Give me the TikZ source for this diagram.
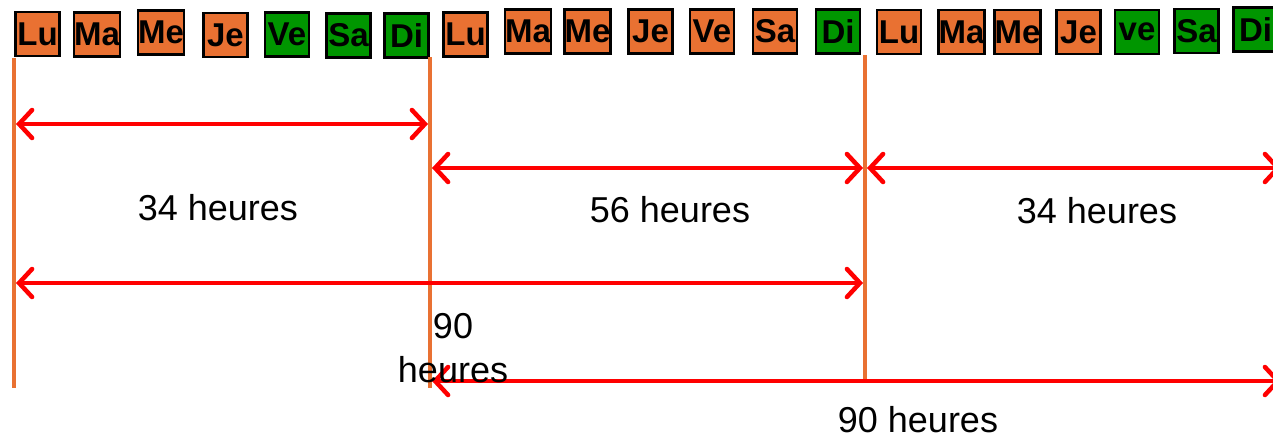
\documentclass[tikz,border=0pt]{standalone}
\usepackage{fontspec}
\setmainfont{Liberation Sans}
\usetikzlibrary{arrows.meta,positioning}

\definecolor{dayorange}{RGB}{233,113,50}
\definecolor{daygreen}{RGB}{0,150,0}
\definecolor{arrowred}{RGB}{255,0,0}

\begin{document}
\begin{tikzpicture}[x=1pt,y=-1pt,>={Straight Barb[length=13pt,width=28pt,line cap=round]}]
\tikzstyle{wd} = [draw=black,line width=2.5pt,fill=dayorange,minimum width=44pt,minimum height=44pt,inner sep=0pt,font=\fontsize{33pt}{33pt}\selectfont\bfseries]
\tikzstyle{we} = [wd,fill=daygreen]
\tikzstyle{sep} = [draw=dayorange,line width=4pt]
\tikzstyle{span} = [draw=arrowred,line width=4.5pt,line cap=round,<->]
\tikzstyle{lbl} = [font=\fontsize{36pt}{44pt}\selectfont,align=center,inner sep=0pt]
    \useasboundingbox (0,0) rectangle (1273,439);

    % first week
    \node[wd] (lu1) at (37.5,34) {Lu};
    \node[wd] (ma1) at (97,34.5) {Ma};
    \node[wd] (me1) at (161,32.5) {Me};
    \node[wd] (je1) at (225.5,35) {Je};
    \node[we] (ve1) at (287,34.5) {Ve};
    \node[we] (sa1) at (348.5,35.5) {Sa};
    \node[we] (di1) at (406.5,35.5) {Di};
    % second week
    \node[wd] (lu2) at (465.5,34.5) {Lu};
    \node[wd] (ma2) at (528,31.5) {Ma};
    \node[wd] (me2) at (587.5,31.5) {Me};
    \node[wd] (je2) at (650.5,31.5) {Je};
    \node[wd] (ve2) at (712,31.5) {Ve};
    \node[wd] (sa2) at (775,31.5) {Sa};
    \node[we] (di2) at (838,31.5) {Di};
    % third week
    \node[wd] (lu3) at (899,32) {Lu};
    \node[wd] (ma3) at (961.5,32) {Ma};
    \node[wd] (me3) at (1017.5,32) {Me};
    \node[wd] (je3) at (1078.5,32) {Je};
    \node[we] (ve3) at (1137,32) {ve};
    \node[we] (sa3) at (1196.5,31) {Sa};
    \node[we] (di3) at (1255.5,29.5) {Di};

    \coordinate (s1t) at (14,58);
    \coordinate (s1b) at (14,388);
    \coordinate (s2t) at (430,57);
    \coordinate (s2b) at (430,388);
    \coordinate (s3t) at (865,55);
    \coordinate (s3b) at (865,382);
    \draw[sep] (s1t) -- (s1b);
    \draw[sep] (s2t) -- (s2b);
    \draw[sep] (s3t) -- (s3b);

    \coordinate (a1l) at (16,124);
    \coordinate (a1r) at (428,124);
    \coordinate (a2l) at (432,168);
    \coordinate (a2r) at (863,168);
    \coordinate (a3l) at (867,168);
    \coordinate (a3r) at (1281,168);
    \coordinate (a4l) at (16,283);
    \coordinate (a4r) at (863,283);
    \coordinate (a5l) at (432,381);
    \coordinate (a5r) at (1281,381);
    \draw[span] (a1l) -- (a1r);
    \draw[span] (a2l) -- (a2r);
    \draw[span] (a3l) -- (a3r);
    \draw[span] (a4l) -- (a4r);
    \draw[span] (a5l) -- (a5r);

    \node[lbl] (h34a) at (218,208) {34 heures};
    \node[lbl] (h56) at (670,210) {56 heures};
    \node[lbl] (h34b) at (1097,211) {34 heures};
    \node[lbl] (h90a) at (453,348) {90\\heures};
    \node[lbl] (h90b) at (918,420) {90 heures};
\end{tikzpicture}
\end{document}
